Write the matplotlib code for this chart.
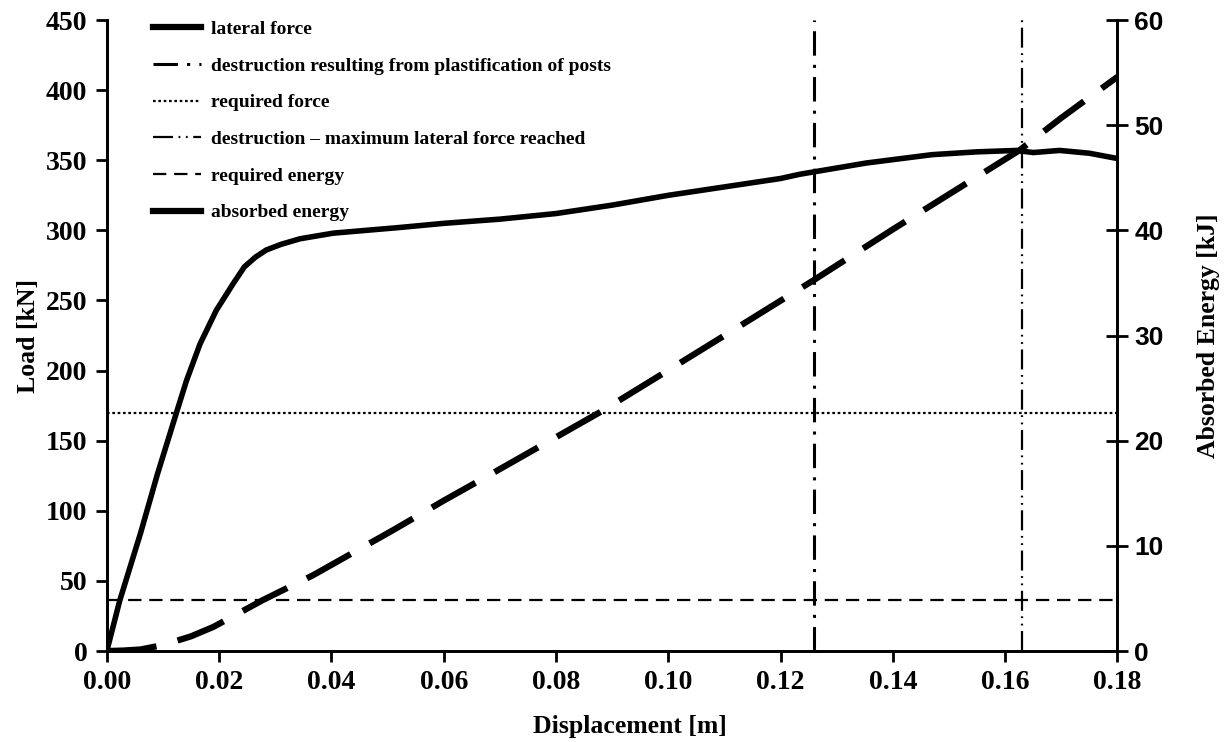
import matplotlib.pyplot as plt
from matplotlib.lines import Line2D

# lateral force [kN] vs displacement [m]
force_x = [0.0, 0.0023, 0.006, 0.009, 0.0124, 0.0142, 0.0166, 0.0195, 0.0225, 0.0245,
           0.0265, 0.0284, 0.031, 0.0344, 0.0403, 0.052, 0.06, 0.07, 0.08, 0.09, 0.10,
           0.11, 0.12, 0.1234, 0.1352, 0.147, 0.155, 0.162, 0.165, 0.1697, 0.175, 0.1803]
force_y = [0, 36, 84, 126, 170, 193, 219, 243, 262, 274,
           281, 286, 290, 294, 298, 302, 305, 308, 312, 318, 325,
           331, 337, 340, 348, 354, 356, 357, 355.5, 357, 355, 351]

# absorbed energy [kJ] vs displacement [m]
energy_x = [0.0, 0.003, 0.006, 0.010, 0.015, 0.019, 0.0278, 0.0367, 0.051, 0.06, 0.07,
            0.0878, 0.10, 0.11, 0.126, 0.14, 0.1625, 0.17, 0.18]
energy_y = [0.0, 0.05, 0.15, 0.57, 1.4, 2.3, 4.85, 7.2, 11.5, 14.3, 17.3,
            22.7, 26.7, 30.0, 35.3, 40.1, 47.6, 50.7, 54.6]

x_plastic = 0.126     # destruction from plastification of posts
x_maxforce = 0.163    # destruction - max lateral force reached
req_force = 170       # kN
req_energy = 4.85     # kJ

labels = ['lateral force',
          'destruction resulting from plastification of posts',
          'required force',
          'destruction \u2013 maximum lateral force reached',
          'required energy',
          'absorbed energy']

serif = 'Liberation Serif'
sans = 'Liberation Sans'

fig = plt.figure(figsize=(12.28, 7.42), dpi=100)
ax = fig.add_axes([0.087, 0.1226, 0.823, 0.8504])
ax2 = ax.twinx()

ax.plot(force_x, force_y, color='black', lw=4, solid_capstyle='round', solid_joinstyle='round')
ax.axvline(x_plastic, color='black', lw=2.2, ls=(0, (8, 3, 1, 3)))
ax.axhline(req_force, color='black', lw=1.6, ls=(0, (1.2, 1.2)))
ax.axvline(x_maxforce, color='black', lw=1.6, ls=(0, (9, 2.5, 0.8, 2.5, 0.8, 2.5)))
ax.axhline(req_energy * 7.5, color='black', lw=1.6, ls=(0, (6, 3.5)))
ax2.plot(energy_x, energy_y, color='black', lw=4.5, ls=(0, (8, 3.5)))

ax.set_xlim(0, 0.18)
ax.set_ylim(0, 450)
ax2.set_ylim(0, 60)

ax.set_xticks([i / 100 for i in range(0, 19, 2)])
ax.set_xticklabels(['%.2f' % (i / 100) for i in range(0, 19, 2)])
ax.set_yticks(range(0, 451, 50))
ax2.set_yticks(range(0, 61, 10))

for lab in ax.get_xticklabels() + ax.get_yticklabels():
    lab.set_fontfamily(serif)
    lab.set_fontweight('bold')
    lab.set_fontsize(20)
for lab in ax2.get_yticklabels():
    lab.set_fontfamily(sans)
    lab.set_fontweight('bold')
    lab.set_fontsize(19)

ax.tick_params(axis='both', direction='out', length=8, width=2, pad=6)
ax2.tick_params(axis='y', direction='inout', length=16, width=2, pad=4)

for a in (ax, ax2):
    a.spines['top'].set_visible(False)
    for s in ('left', 'right', 'bottom'):
        a.spines[s].set_linewidth(2)

ax.set_xlabel('Displacement [m]', fontfamily=serif, fontweight='bold', fontsize=18.5)
ax.xaxis.set_label_coords(0.518, -0.102)
ax.set_ylabel('Load [kN]', fontfamily=serif, fontweight='bold', fontsize=18.5, labelpad=4)
ax2.set_ylabel('Absorbed Energy [kJ]', fontfamily=serif, fontweight='bold', fontsize=18.5, labelpad=24)

handles = [Line2D([], [], color='black', lw=4.5),
           Line2D([], [], color='black', lw=2.2, ls=(0, (8, 3, 1, 3))),
           Line2D([], [], color='black', lw=1.6, ls=(0, (1.2, 1.2))),
           Line2D([], [], color='black', lw=1.6, ls=(0, (9, 2.5, 0.8, 2.5, 0.8, 2.5))),
           Line2D([], [], color='black', lw=1.6, ls=(0, (6, 3.5))),
           Line2D([], [], color='black', lw=4.5)]
leg = ax.legend(handles, labels, loc='upper left', bbox_to_anchor=(0.028, 1.027),
                frameon=False, handlelength=2.5, handletextpad=0.5, labelspacing=0.98,
                prop={'family': serif, 'weight': 'bold', 'size': 14})

fig.savefig('out.png', dpi=100)
